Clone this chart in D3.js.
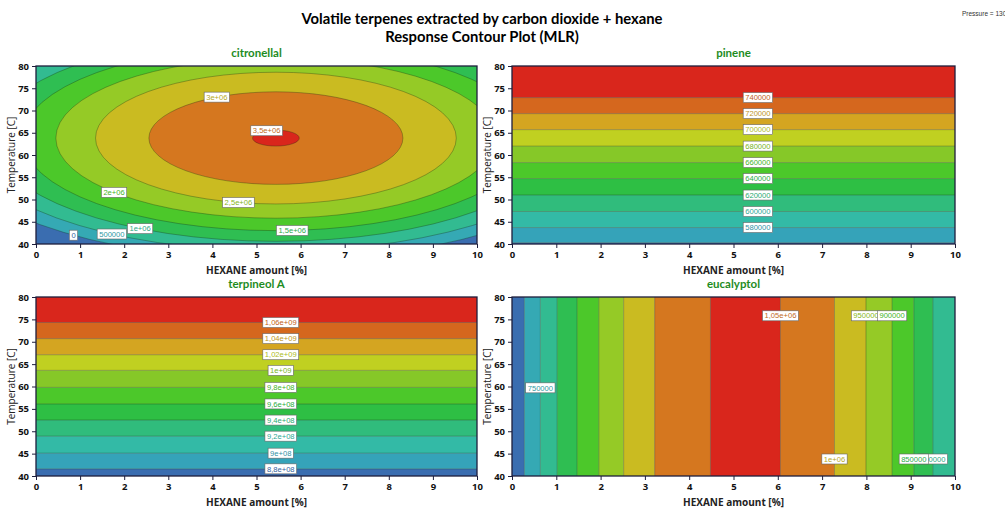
<!DOCTYPE html>
<html>
<head>
<meta charset="utf-8">
<script src="https://cdn.jsdelivr.net/npm/d3@7"></script>
<style>
  body { margin: 0; background: #fff; }
  text { font-family: "Open Sans", "DejaVu Sans", sans-serif; }
</style>
</head>
<body>
<svg id="chart" width="1005" height="510"></svg>
<script>
// ===== Data =====
// colour ramp of the contour fills (low -> high)
const palette = ["#3a6db0", "#35a3b9", "#33baa6", "#30bc7c", "#2ebf44", "#4cc82a",
                 "#86c828", "#c0d021", "#d4a521", "#d5671e", "#d9261c"];

// citronellal: concentric ellipses round the optimum
const citCenter = [5.44, 63.8];
const citLevels = [0, 500000, 1000000, 1500000, 2000000, 2500000, 3000000, 3500000];
const citRx     = [7.59, 7.03, 6.42, 5.75, 4.99, 4.09, 2.88, 0.53];   // HEXANE units
const citRy     = [27.4, 25.4, 23.2, 20.8, 18.0, 14.8, 10.4, 1.8];    // deg C
const citLabelX = [0.85, 1.72, 2.36, 5.81, 1.77, 4.59, 4.10, 5.23];
const citLabelSide = [-1, -1, -1, -1, -1, -1, 1, 1];

// pinene: horizontal bands
const pinLevels = [560000, 580000, 600000, 620000, 640000, 660000, 680000, 700000, 720000, 740000];
const pinTemps  = [40.3, 43.7, 47.3, 51.0, 54.7, 58.3, 62.0, 65.7, 69.3, 72.9];
const pinLabeled = [false, true, true, true, true, true, true, true, true, true];

// terpineol A: horizontal bands
const terLevels = [8.8e8, 9.0e8, 9.2e8, 9.4e8, 9.6e8, 9.8e8, 1.0e9, 1.02e9, 1.04e9, 1.06e9];
const terTemps  = [41.6, 45.1, 48.9, 52.5, 56.1, 59.8, 63.6, 67.1, 70.7, 74.3];

// eucalyptol: vertical bands, crossing on each side of the maximum
const eucLevels = [700000, 750000, 800000, 850000, 900000, 950000, 1000000, 1050000];
const eucLeft   = [0.28, 0.64, 1.02, 1.47, 1.96, 2.52, 3.22, 4.48];
const eucRight  = [null, null, 9.50, 9.07, 8.58, 7.99, 7.28, 6.06];
// labels: [level index, side, temperature]
const eucLabels = [[1, "L", 59.7], [7, "R", 75.8], [5, "R", 75.8], [4, "R", 75.8],
                   [6, "R", 43.8], [2, "R", 43.8], [3, "R", 43.8]];

const bandLabelX = 5.55;
const xTicks = d3.range(0, 11, 1);
const yTicks = d3.range(40, 81, 5);

// ===== Layout =====
const svg = d3.select("#chart");
const ramp = d3.piecewise(d3.interpolateRgb, palette);
const bandColors = n => d3.range(n).map(i => ramp(i / (n - 1)));

const boxes = {
  tl: { x0: 36,  x1: 477, y0: 66,  y1: 244 },
  tr: { x0: 512, x1: 955, y0: 66,  y1: 244 },
  bl: { x0: 36,  x1: 477, y0: 297, y1: 476 },
  br: { x0: 512, x1: 955, y0: 297, y1: 476 }
};

// %g style numbers with a decimal comma
function fmtG(v) {
  if (v === 0) return "0";
  const e = Math.floor(Math.log10(Math.abs(v)) + 1e-9);
  if (e < 6) return String(Math.round(v));
  const m = +(v / Math.pow(10, e)).toFixed(5);
  return String(m).replace(".", ",") + "e+" + String(e).padStart(2, "0");
}

svg.append("text").attr("x", 482).attr("y", 24).attr("text-anchor", "middle")
  .style("font-family", "Lato, sans-serif").style("font-weight", "bold").style("font-size", "14.8px")
  .text("Volatile terpenes extracted by carbon dioxide + hexane");
svg.append("text").attr("x", 482).attr("y", 42).attr("text-anchor", "middle")
  .style("font-family", "Lato, sans-serif").style("font-weight", "bold").style("font-size", "14.8px")
  .text("Response Contour Plot (MLR)");
svg.append("text").attr("x", 962).attr("y", 16)
  .style("font-family", "Liberation Sans, Arial, sans-serif").style("font-size", "6.5px").attr("fill", "#333")
  .text("Pressure = 130");

function makePanel(key, title) {
  const b = boxes[key];
  const x = d3.scaleLinear().domain([0, 10]).range([b.x0, b.x1]);
  const y = d3.scaleLinear().domain([40, 80]).range([b.y1, b.y0]);
  const g = svg.append("g");
  svg.append("clipPath").attr("id", "clip-" + key)
    .append("rect").attr("x", b.x0).attr("y", b.y0)
    .attr("width", b.x1 - b.x0).attr("height", b.y1 - b.y0);
  const plot = g.append("g").attr("clip-path", `url(#clip-${key})`);
  const labels = g.append("g");
  svg.append("text").attr("x", (b.x0 + b.x1) / 2).attr("y", b.y0 - 9).attr("text-anchor", "middle")
    .style("font-family", "Lato, sans-serif").style("font-weight", "bold").style("font-size", "11.5px")
    .attr("fill", "#1e8c1e").text(title);
  return { b, x, y, g, plot, labels };
}

function drawFrame(p) {
  const { b, x, y, g } = p;
  const ax = g.append("g").attr("transform", `translate(0,${b.y1})`);
  ax.call(d3.axisBottom(x).tickValues(d3.range(0.5, 10, 1)).tickSize(2).tickFormat(""));
  ax.call(d3.axisBottom(x).tickValues(xTicks).tickSize(4).tickPadding(3).tickFormat(d3.format("d")));
  const ay = g.append("g").attr("transform", `translate(${b.x0},0)`);
  ay.call(d3.axisLeft(y).tickValues(d3.range(42.5, 80, 5)).tickSize(2).tickFormat(""));
  ay.call(d3.axisLeft(y).tickValues(yTicks).tickSize(4).tickPadding(3).tickFormat(d3.format("d")));
  g.selectAll(".domain").remove();
  g.selectAll(".tick line").attr("stroke", "#1e1e3c");
  g.selectAll(".tick text").style("font-weight", "bold").style("font-size", "9.5px").attr("fill", "#111");
  g.append("rect").attr("x", b.x0).attr("y", b.y0).attr("width", b.x1 - b.x0).attr("height", b.y1 - b.y0)
    .attr("fill", "none").attr("stroke", "#1e1e3c").attr("stroke-width", 1.3);
  g.append("text").attr("x", (b.x0 + b.x1) / 2).attr("y", b.y1 + 30).attr("text-anchor", "middle")
    .style("font-weight", "bold").style("font-size", "10px").attr("fill", "#222")
    .text("HEXANE amount [%]");
  g.append("text").attr("transform", `translate(${b.x0 - 21},${(b.y0 + b.y1) / 2}) rotate(-90)`)
    .attr("text-anchor", "middle").style("font-size", "10px").attr("fill", "#222")
    .text("Temperature [C]");
}

function addLabel(p, px, py, level, color) {
  const lg = p.labels.append("g").attr("transform", `translate(${px},${py})`);
  const rect = lg.append("rect");
  const t = lg.append("text").attr("text-anchor", "middle").attr("dy", "0.35em")
    .style("font-family", "Liberation Sans, Arial, sans-serif").style("font-size", "7.6px")
    .attr("fill", color).text(fmtG(level));
  const w = t.node().getComputedTextLength() + 4;
  rect.attr("x", -w / 2).attr("y", -5).attr("width", w).attr("height", 10)
    .attr("fill", "#fff").attr("stroke", "#666").attr("stroke-width", 0.6);
}

const lineStroke = "rgba(20,40,20,0.4)";

// ===== citronellal =====
{
  const p = makePanel("tl", "citronellal");
  const cols = bandColors(citLevels.length + 1);
  const { b, x, y, plot } = p;
  plot.append("rect").attr("x", b.x0).attr("y", b.y0).attr("width", b.x1 - b.x0)
    .attr("height", b.y1 - b.y0).attr("fill", cols[0]);
  const kx = x(1) - x(0), ky = y(40) - y(41);
  plot.selectAll("ellipse").data(citLevels).join("ellipse")
    .attr("cx", x(citCenter[0])).attr("cy", y(citCenter[1]))
    .attr("rx", (d, i) => citRx[i] * kx).attr("ry", (d, i) => citRy[i] * ky)
    .attr("fill", (d, i) => cols[i + 1])
    .attr("stroke", lineStroke).attr("stroke-width", 0.8);
  citLevels.forEach((lv, i) => {
    const dx = citLabelX[i] - citCenter[0];
    const dy = citRy[i] * Math.sqrt(Math.max(0, 1 - (dx / citRx[i]) ** 2));
    addLabel(p, x(citLabelX[i]), y(citCenter[1] + citLabelSide[i] * dy), lv, d3.color(cols[i]).darker(0.3));
  });
  drawFrame(p);
}

// ===== horizontal band panels =====
function bandPanel(key, title, levels, temps, labeled) {
  const p = makePanel(key, title);
  const cols = bandColors(levels.length + 1);
  const { b, x, y, plot } = p;
  const edges = [40].concat(temps, [80]);
  plot.selectAll("rect.band").data(cols).join("rect").attr("class", "band")
    .attr("x", b.x0).attr("width", b.x1 - b.x0)
    .attr("y", (d, i) => y(edges[i + 1])).attr("height", (d, i) => y(edges[i]) - y(edges[i + 1]))
    .attr("fill", d => d);
  plot.selectAll("line.lvl").data(temps).join("line").attr("class", "lvl")
    .attr("x1", b.x0).attr("x2", b.x1).attr("y1", d => y(d)).attr("y2", d => y(d))
    .attr("stroke", lineStroke).attr("stroke-width", 0.8);
  levels.forEach((lv, i) => {
    if (labeled && !labeled[i]) return;
    addLabel(p, x(bandLabelX), y(temps[i]), lv, d3.color(cols[i]).darker(0.3));
  });
  drawFrame(p);
}
bandPanel("tr", "pinene", pinLevels, pinTemps, pinLabeled);
bandPanel("bl", "terpineol A", terLevels, terTemps, null);

// ===== eucalyptol =====
{
  const p = makePanel("br", "eucalyptol");
  const cols = bandColors(eucLevels.length + 1);
  const { b, x, y, plot } = p;
  const segs = [];
  let prev = 0;
  eucLeft.forEach((v, i) => { segs.push({ x0: prev, x1: v, band: i }); prev = v; });
  for (let i = eucRight.length - 1; i >= 0; i--) {
    if (eucRight[i] === null) continue;
    segs.push({ x0: prev, x1: eucRight[i], band: i + 1 });
    prev = eucRight[i];
  }
  const lowest = eucRight.findIndex(v => v !== null);
  segs.push({ x0: prev, x1: 10, band: lowest });
  plot.selectAll("rect.band").data(segs).join("rect").attr("class", "band")
    .attr("x", d => x(d.x0)).attr("width", d => x(d.x1) - x(d.x0))
    .attr("y", b.y0).attr("height", b.y1 - b.y0).attr("fill", d => cols[d.band]);
  const cuts = eucLeft.concat(eucRight.filter(v => v !== null));
  plot.selectAll("line.lvl").data(cuts).join("line").attr("class", "lvl")
    .attr("x1", d => x(d)).attr("x2", d => x(d)).attr("y1", b.y0).attr("y2", b.y1)
    .attr("stroke", lineStroke).attr("stroke-width", 0.8);
  // the 850000 box sits over the left part of the 800000 one, as in the reference
  eucLabels.forEach(([i, side, t]) => {
    const xv = side === "L" ? eucLeft[i] : eucRight[i];
    addLabel(p, x(xv), y(t), eucLevels[i], d3.color(cols[i]).darker(0.3));
  });
  drawFrame(p);
}
</script>
</body>
</html>
